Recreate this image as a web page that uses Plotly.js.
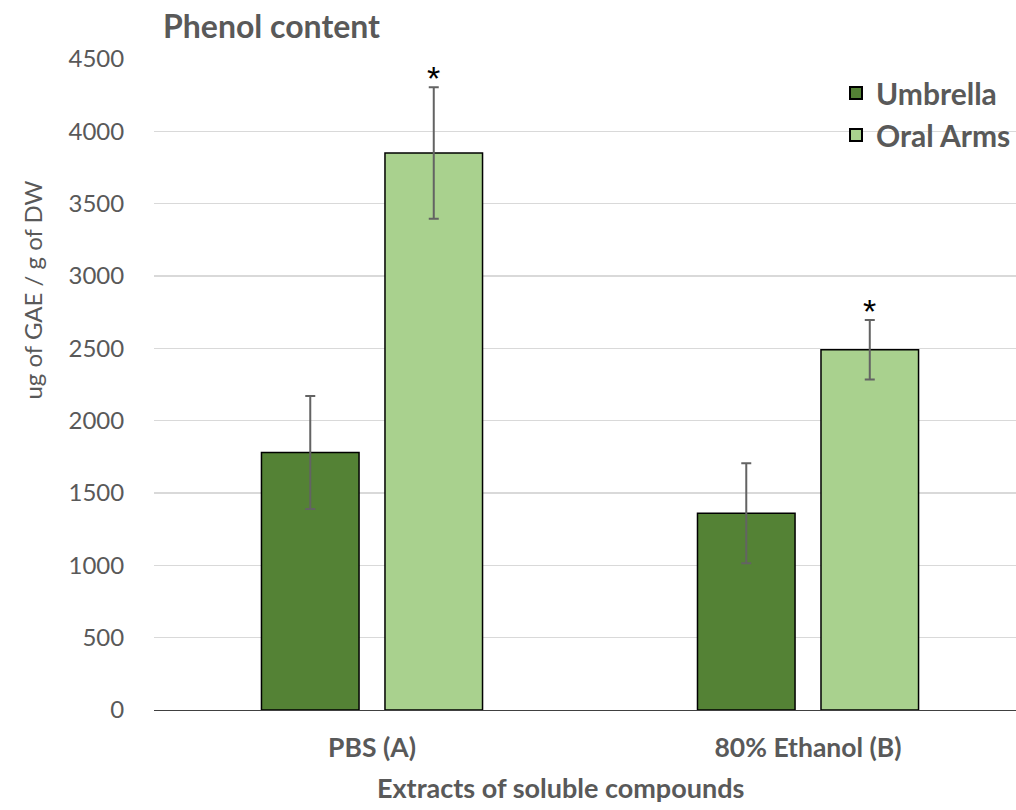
<!DOCTYPE html>
<html>
<head>
<meta charset="utf-8">
<script src="https://cdn.plot.ly/plotly-3.0.1.min.js"></script>
<style>html,body{margin:0;padding:0;background:#fff;}#chart{width:1016px;height:810px;}</style>
</head>
<body>
<div id="chart"></div>
<script>
var categories = ["PBS (A)", "80% Ethanol (B)"];
var seriesNames = ["Umbrella", "Oral Arms"];
var umbrellaValues = [1780, 1360];
var umbrellaErrors = [390, 345];
var oralArmsValues = [3850, 2490];
var oralArmsErrors = [455, 205];
var significance = ["*", "*"];
var yTicks = [0, 500, 1000, 1500, 2000, 2500, 3000, 3500, 4000, 4500];

var FONT = "Lato, 'Open Sans', sans-serif";
var GRAY = "#595959";

var errStyle = {type: "data", visible: true, color: "#636363", thickness: 2, width: 5};

var traces = [
  {
    type: "bar", name: "<b>" + seriesNames[0] + "</b>", x: categories, y: umbrellaValues,
    marker: {color: "#548235", line: {color: "#000000", width: 1.5}},
    error_y: Object.assign({array: umbrellaErrors}, errStyle)
  },
  {
    type: "bar", name: "<b>" + seriesNames[1] + "</b>", x: categories, y: oralArmsValues,
    marker: {color: "#A9D18E", line: {color: "#000000", width: 1.5}},
    error_y: Object.assign({array: oralArmsErrors}, errStyle)
  }
];

var bargap = 0.4335, bargroupgap = 0.21;
var slot = (1 - bargap) / 2;
var annotations = categories.map(function (c, i) {
  return {
    xref: "x", yref: "y", x: i + slot / 2, y: oralArmsValues[i] + oralArmsErrors[i],
    text: significance[i], showarrow: false, yanchor: "bottom", yshift: -12,
    font: {family: "'Liberation Sans', Arial, sans-serif", size: 34, color: "#000000"}
  };
});
annotations.push({
  xref: "paper", yref: "paper", x: -0.141, y: 0.645, xanchor: "center", yanchor: "middle",
  text: "ug of GAE / g of DW", textangle: -90, showarrow: false,
  font: {family: FONT, size: 24, color: GRAY}
});
annotations.push({
  xref: "paper", yref: "paper", x: 0.472, y: -0.1198, xanchor: "center", yanchor: "middle",
  text: "<b>Extracts of soluble compounds</b>", showarrow: false,
  font: {family: FONT, size: 27, color: GRAY}
});

var layout = {
  width: 1016, height: 810,
  paper_bgcolor: "#ffffff", plot_bgcolor: "#ffffff",
  margin: {l: 154, r: 0, t: 59, b: 100, pad: 0},
  barmode: "group", bargap: bargap, bargroupgap: bargroupgap,
  font: {family: FONT, color: GRAY},
  showlegend: true,
  title: {text: "<b>Phenol content</b>", x: 163 / 1016, xanchor: "left", xref: "container",
          y: 1 - 27 / 810, yanchor: "middle", yref: "container",
          font: {family: FONT, size: 32, color: GRAY}},
  xaxis: {
    type: "category", range: [-0.5, 1.477], showgrid: false, zeroline: false,
    showline: true, linecolor: "#404040", linewidth: 1,
    ticks: "outside", ticklen: 14, tickcolor: "rgba(0,0,0,0)",
    tickfont: {family: FONT, size: 26.5, color: GRAY},
    tickvals: categories, ticktext: categories.map(function (c) { return "<b>" + c + "</b>"; })
  },
  yaxis: {
    range: [0, 4500], tickvals: yTicks, ticktext: yTicks.map(String),
    showgrid: true, gridcolor: "#d9d9d9", gridwidth: 1.5, zeroline: false, showline: false,
    ticks: "outside", ticklen: 24, tickcolor: "rgba(0,0,0,0)",
    tickfont: {family: FONT, size: 24, color: GRAY}
  },
  legend: {
    x: 1, xanchor: "right", y: 1 - 8 / 651, yanchor: "top",
    bgcolor: "rgba(255,255,255,0)",
    font: {family: FONT, size: 30, color: GRAY}, tracegroupgap: 0,
    itemsizing: "constant"
  },
  annotations: annotations
};

Plotly.newPlot("chart", traces, layout, {displayModeBar: false, staticPlot: true});
</script>
</body>
</html>
